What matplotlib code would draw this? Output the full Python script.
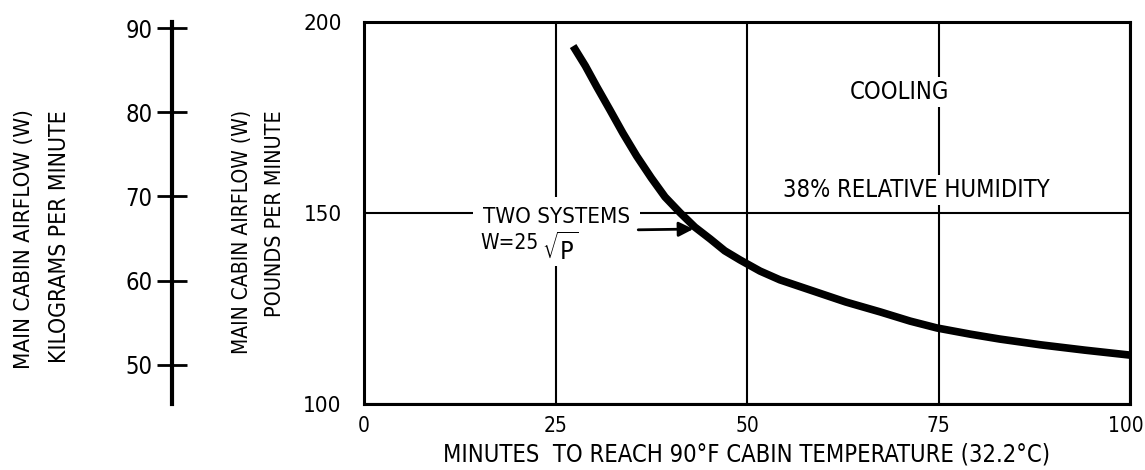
import matplotlib
matplotlib.use("Agg")
import matplotlib.pyplot as plt
from matplotlib.transforms import ScaledTranslation

# cooling-time curve for the main cabin, two systems running
minutes = [27.3, 28.9, 30.4, 32.1, 33.8, 35.6, 37.5, 39.3, 41.3, 43.2, 45.2, 47.1,
           49.1, 51.7, 54.3, 58.6, 62.9, 67.4, 71.3, 74.8, 79.1, 83.0, 88.3, 94.1, 100.0]
airflow_lb = [193.7, 188.5, 183.0, 177.0, 170.9, 164.9, 159.2, 154.2, 150.0, 146.3, 143.2, 140.1,
              137.7, 134.8, 132.5, 129.6, 126.7, 124.1, 121.7, 119.9, 118.3, 117.0, 115.5, 114.1, 112.8]

x_ticks = [0, 25, 50, 75, 100]
y_ticks = [100, 150, 200]
kg_ticks = [50, 60, 70, 80, 90]
LB_TO_KG = 0.45359

plt.rcParams['font.family'] = ['DejaVu Sans']
plt.rcParams['font.stretch'] = 'condensed'
plt.rcParams['mathtext.fontset'] = 'dejavusans'

FS = 17
W, H = 1145, 470
fig = plt.figure(figsize=(W / 100, H / 100), dpi=100)
ax = fig.add_axes([364 / W, (H - 404) / H, 766 / W, 382 / H])

ax.set_xlim(0, 100)
ax.set_ylim(100, 200)
ax.set_xticks(x_ticks)
ax.set_yticks(y_ticks)
ax.tick_params(axis='both', length=0, labelsize=16)
ax.tick_params(axis='y', pad=16)
ax.tick_params(axis='x', pad=9, labelsize=15)
for sp in ax.spines.values():
    sp.set_linewidth(2.2)

# keep the "100" at the right end inside the figure
last = ax.get_xticklabels()[-1]
last.set_transform(last.get_transform() + ScaledTranslation(-4 / 100, 0, fig.dpi_scale_trans))

ax.grid(True, color='black', linewidth=1.5)
ax.set_axisbelow(True)

ax.plot(minutes, airflow_lb, color='black', linewidth=5.5, solid_capstyle='butt', zorder=5)

ax.set_xlabel('MINUTES  TO REACH 90°F CABIN TEMPERATURE (32.2°C)', fontsize=FS, labelpad=4)

box = dict(facecolor='white', edgecolor='none', pad=2)
ax.text(63.4, 181.7, 'COOLING', fontsize=FS, va='center', ha='left', bbox=box, zorder=4)
ax.text(54.7, 156.0, '38% RELATIVE HUMIDITY', fontsize=FS, va='center', ha='left', bbox=box, zorder=4)
ax.text(15.5, 149.0, 'TWO SYSTEMS', fontsize=16, va='center', ha='left',
        bbox=dict(facecolor='white', edgecolor='none', pad=7), zorder=4)
ax.text(15.2, 142.1, 'W=25', fontsize=15, va='center', ha='left',
        bbox=dict(facecolor='white', edgecolor='none', pad=3), zorder=4)
ax.text(23.2, 140.6, r'$\sqrt{\mathsf{P}}$', fontsize=18, va='center', ha='left',
        bbox=dict(facecolor='white', edgecolor='none', pad=0.5), zorder=4)
ax.annotate('', xy=(43.0, 145.8), xytext=(35.8, 145.6),
            arrowprops=dict(arrowstyle='-|>', color='black', lw=2,
                            mutation_scale=22, shrinkA=0, shrinkB=0), zorder=6)

# kilograms-per-minute scale to the left of the pounds scale
kg = ax.secondary_yaxis(-0.2507, functions=(lambda v: v * LB_TO_KG, lambda v: v / LB_TO_KG))
kg.set_yticks(kg_ticks)
kg.tick_params(direction='inout', length=22, width=2, labelsize=FS, pad=3)
kg.spines['left'].set_linewidth(3)

fig.text(24 / W, 1 - 239 / H, 'MAIN CABIN AIRFLOW (W)', rotation=90, fontsize=16, ha='center', va='center')
fig.text(60 / W, 1 - 237 / H, 'KILOGRAMS PER MINUTE', rotation=90, fontsize=16.5, ha='center', va='center')
fig.text(242 / W, 1 - 110 / H, 'MAIN CABIN AIRFLOW (W)', rotation=90, fontsize=15, ha='center', va='top')
fig.text(275 / W, 1 - 110 / H, 'POUNDS PER MINUTE', rotation=90, fontsize=15.5, ha='center', va='top')

fig.savefig('out.png', dpi=100)
